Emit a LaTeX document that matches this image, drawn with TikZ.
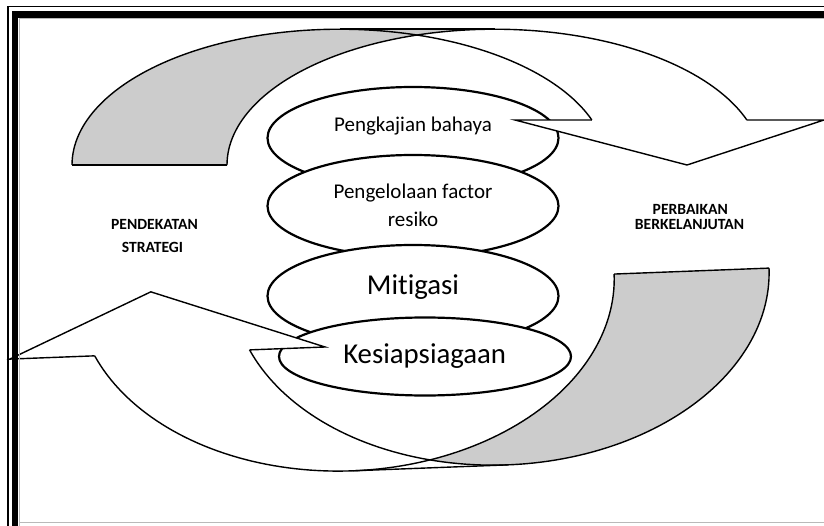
\documentclass[tikz,border=0pt]{standalone}
\usepackage{fontspec}
\setmainfont{Carlito}[Ligatures={NoCommon}]
\usetikzlibrary{shapes.geometric}
\definecolor{bandgray}{RGB}{204,204,204}
\begin{document}
\begin{tikzpicture}[x=1bp,y=-1bp,
  outline/.style={draw=black,line width=1.4bp,line join=miter},
  bubble/.style={draw=black,fill=white,line width=2.2bp,ellipse,inner sep=0pt,
                 minimum width=291bp,minimum height=102bp},
  smalltext/.style={font=\fontsize{21bp}{28bp}\selectfont,inner sep=0pt,anchor=base},
  bigtext/.style={font=\fontsize{28.8bp}{34bp}\selectfont,inner sep=0pt,anchor=base},
  sidelabel/.style={font=\bfseries\fontsize{15.6bp}{18bp}\selectfont,inner sep=0pt,anchor=base},
]
\useasboundingbox (0,0) rectangle (824,526);

% stacked ellipses with their captions
\node[bubble] (e1) at (413,138) {};
\node[smalltext] (t1) at (413,131.7) {Pengkajian bahaya};
\node[bubble] (e2) at (413,206) {};
\node[smalltext] (t2a) at (413,198.3) {Pengelolaan factor};
\node[smalltext] (t2b) at (413,226.7) {resiko};
\node[bubble] (e3) at (413,296) {};
\node[bigtext] (t3) at (413,295) {Mitigasi};
\node[bubble,minimum width=292bp,minimum height=78bp] (e4) at (425,356.5) {};
\node[bigtext] (t4) at (424.7,363.3) {Kesiapsiagaan};

% side labels
\node[sidelabel] (l1) at (154.5,229.3) {PENDEKATAN};
\node[sidelabel] (l2) at (152.5,252.7) {STRATEGI};
\node[sidelabel] (r1) at (690.3,214.3) {PERBAIKAN};
\node[sidelabel] (r2) at (689.5,229.3) {BERKELANJUTAN};

% upper curved arrow: two equal half-ellipses offset by the shaft width
\fill[bandgray]
  plot[domain=180:270,samples=50] ({339.5+267.5*cos(\x)},{165+135.8*sin(\x)})
  -- (494.5,29.2)
  -- plot[domain=270:180,samples=50] ({494.5+267.5*cos(\x)},{165+135.8*sin(\x)})
  -- cycle;
\fill[white]
  plot[domain=253.16:340.65,samples=50] ({494.5+267.5*cos(\x)},{165+135.8*sin(\x)})
  -- (824,120) -- (687,165) -- (515,120)
  -- plot[domain=340.65:286.84,samples=30] ({339.5+267.5*cos(\x)},{165+135.8*sin(\x)})
  -- cycle;
\draw[outline] plot[domain=180:340.65,samples=100] ({339.5+267.5*cos(\x)},{165+135.8*sin(\x)});
\draw[outline] plot[domain=180:340.65,samples=100] ({494.5+267.5*cos(\x)},{165+135.8*sin(\x)});
\draw[outline] (72,165) -- (227,165);
\draw[outline] (339.5,29.2) -- (494.5,29.2);
\draw[outline] (746.9,120) -- (824,120) -- (687,165) -- (515,120) -- (591.9,120);

% lower curved arrow, slightly tilted
\begin{scope}[rotate around={2.2:(440,370)}]
\fill[bandgray]
  plot[domain=0:106.77,samples=60] ({504+268.7*cos(\x)},{280.8+186.6*sin(\x)})
  -- plot[domain=73.23:0,samples=60] ({349+268.7*cos(\x)},{280.8+186.6*sin(\x)})
  -- cycle;
\fill[white]
  plot[domain=73.23:160.66,samples=60] ({349+268.7*cos(\x)},{280.8+186.6*sin(\x)})
  -- (10.5,342.6) -- (154,280.8) -- (326,342.6)
  -- plot[domain=160.66:106.77,samples=60] ({504+268.7*cos(\x)},{280.8+186.6*sin(\x)})
  -- cycle;
\draw[outline] plot[domain=0:160.66,samples=100] ({504+268.7*cos(\x)},{280.8+186.6*sin(\x)});
\draw[outline] plot[domain=0:160.66,samples=100] ({349+268.7*cos(\x)},{280.8+186.6*sin(\x)});
\draw[outline] (617.7,280.8) -- (772.7,280.8);
\draw[outline] (349,467.4) -- (504,467.4);
\draw[outline] (95.5,342.6) -- (10.5,342.6) -- (154,280.8) -- (326,342.6) -- (250.5,342.6);
\end{scope}

% page frame: thin outer line, thick band, faint inner line
\draw[gray!55,line width=0.7bp] (19.2,526) -- (19.2,18.6) -- (824,18.6);
\draw[gray!55,line width=0.7bp] (19.2,522) -- (824,522);
\draw[line width=1.6bp,line join=miter] (8.2,526) -- (8.2,6.5) -- (824,6.5);
\draw[line width=6.8bp,line join=miter] (15,526) -- (15,14.2) -- (824,14.2);
\end{tikzpicture}
\end{document}
